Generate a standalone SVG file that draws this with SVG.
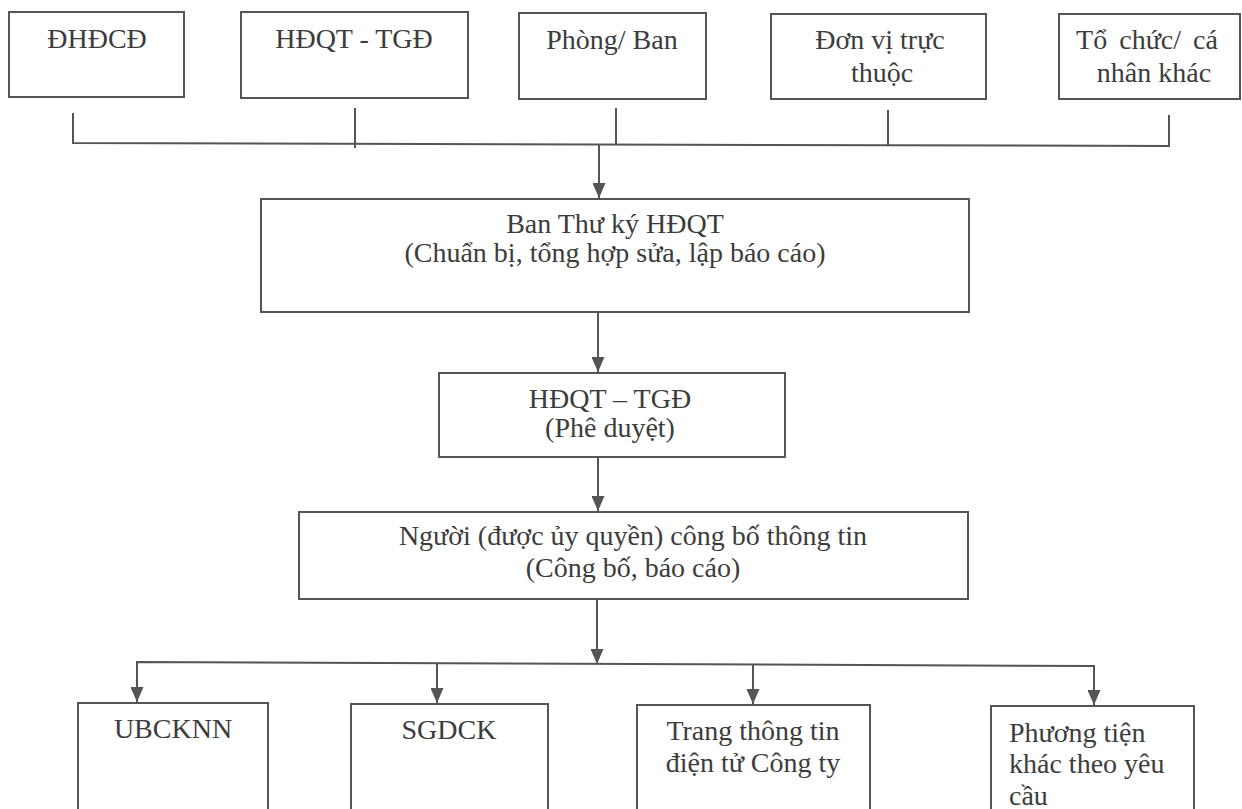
<svg xmlns="http://www.w3.org/2000/svg" width="1242" height="809" viewBox="0 0 1242 809">
<style>
.box{fill:#ffffff;stroke:#555555;stroke-width:2}
.ln{fill:none;stroke:#555555;stroke-width:2}
.t{font-family:"Liberation Serif","Times New Roman",serif;font-size:28px;fill:#3c3c3c;text-anchor:middle}
.tl{font-family:"Liberation Serif","Times New Roman",serif;font-size:28px;fill:#3c3c3c;text-anchor:start}
</style>
<defs>
<marker id="ah" markerUnits="userSpaceOnUse" markerWidth="15" markerHeight="13" refX="15" refY="6.5" orient="auto" viewBox="0 0 15 13">
<path d="M0,0 L15,6.5 L0,13 Z" fill="#555555"/>
</marker>
</defs>
<rect x="0" y="0" width="1242" height="809" fill="#ffffff"/>

<g id="connectors">
<path class="ln" d="M73,113 V143 L1169,146 V115"/>
<path class="ln" d="M355,108 V148"/>
<path class="ln" d="M616,108 V144"/>
<path class="ln" d="M888,110 V145"/>
<path class="ln" d="M599,144 V198" marker-end="url(#ah)"/>
<path class="ln" d="M598,312 V372" marker-end="url(#ah)"/>
<path class="ln" d="M598,457 V511" marker-end="url(#ah)"/>
<path class="ln" d="M597,599 V664" marker-end="url(#ah)"/>
<path class="ln" d="M137,702 V662 L1094,666 V705" marker-end="url(#ah)"/>
<path class="ln" d="M137,664 V702" marker-end="url(#ah)"/>
<path class="ln" d="M437,663 V703" marker-end="url(#ah)"/>
<path class="ln" d="M753,665 V704" marker-end="url(#ah)"/>
</g>

<g id="n-dhdcd">
<rect class="box" x="9" y="12" width="175" height="85"/>
<text class="t" x="97" y="48">ĐHĐCĐ</text>
</g>
<g id="n-hdqt-tgd-top">
<rect class="box" x="241" y="12" width="227" height="86"/>
<text class="t" x="354" y="48">HĐQT - TGĐ</text>
</g>
<g id="n-phong-ban">
<rect class="box" x="519" y="13" width="187" height="86"/>
<text class="t" x="612" y="49">Phòng/ Ban</text>
</g>
<g id="n-don-vi">
<rect class="box" x="771" y="14" width="215" height="85"/>
<text class="t" x="880" y="49">Đơn vị trực</text>
<text class="t" x="882" y="82">thuộc</text>
</g>
<g id="n-to-chuc">
<rect class="box" x="1059" y="14" width="181" height="85"/>
<text class="t" x="1147" y="49" style="word-spacing:5px">Tổ chức/ cá</text>
<text class="t" x="1154" y="82">nhân khác</text>
</g>

<g id="n-ban-thu-ky">
<rect class="box" x="261" y="199" width="708" height="113"/>
<text class="t" x="615" y="233">Ban Thư ký HĐQT</text>
<text class="t" x="615" y="262">(Chuẩn bị, tổng hợp sửa, lập báo cáo)</text>
</g>

<g id="n-hdqt-tgd">
<rect class="box" x="439" y="373" width="346" height="84"/>
<text class="t" x="610" y="408">HĐQT – TGĐ</text>
<text class="t" x="610" y="437">(Phê duyệt)</text>
</g>

<g id="n-nguoi-cbtt">
<rect class="box" x="299" y="512" width="669" height="87"/>
<text class="t" x="633" y="545">Người (được ủy quyền) công bố thông tin</text>
<text class="t" x="633" y="577">(Công bố, báo cáo)</text>
</g>

<g id="n-ubcknn">
<rect class="box" x="78" y="703" width="190" height="130"/>
<text class="t" x="173" y="738">UBCKNN</text>
</g>
<g id="n-sgdck">
<rect class="box" x="351" y="704" width="197" height="130"/>
<text class="t" x="449" y="739">SGDCK</text>
</g>
<g id="n-trang">
<rect class="box" x="637" y="705" width="233" height="130"/>
<text class="t" x="753" y="740">Trang thông tin</text>
<text class="t" x="753" y="772">điện tử Công ty</text>
</g>
<g id="n-phuong-tien">
<rect class="box" x="991" y="706" width="203" height="130"/>
<text class="tl" x="1009" y="742">Phương tiện</text>
<text class="tl" x="1009" y="773">khác theo yêu</text>
<text class="tl" x="1009" y="805">cầu</text>
</g>
</svg>
